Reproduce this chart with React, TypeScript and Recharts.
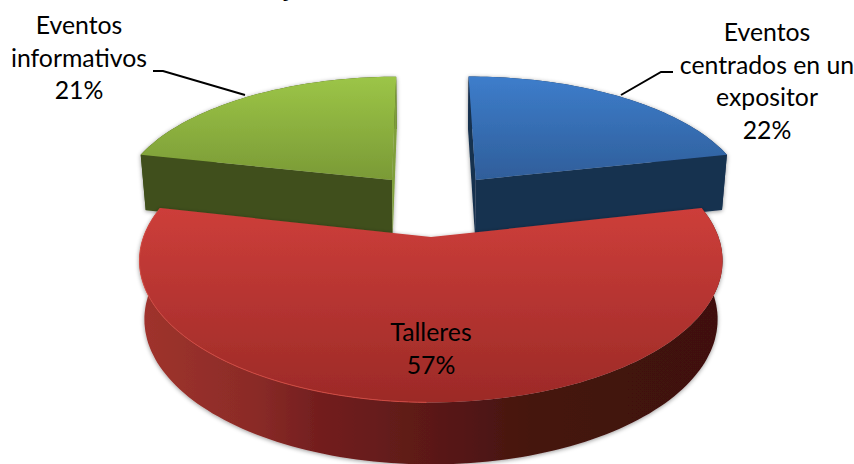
import { PieChart, Pie, Cell } from 'recharts';

const categories = ['Eventos informativos', 'Eventos centrados en un expositor', 'Talleres'];
const percentages = [21.4, 21.6, 57];
const labelLines = [
  ['Eventos', 'informativos'],
  ['Eventos', 'centrados en un', 'expositor'],
  ['Talleres'],
];
const labelPercents = ['21%', '22%', '57%'];
const topColors = [
  ['#9cc547', '#7a9a36'],
  ['#3d7dcb', '#2f5e9a'],
  ['#cd3e3a', '#9c2a27'],
];
const wallColors = ['#3f4f1a', '#183150', '#5a1816'];
const endFaceColors = ['#7f9f3a', '#183150', '#5a1816'];

const data = categories.map((name, i) => ({ name, value: percentages[i] }));

const FIRST_ANGLE = 90 + 77.4;
const EXPLODE = 0.25;
const PERSPECTIVE = 0.16;
const SQUASH = 0.46;
const BASE_SHRINK = 0.983;
const SLICE_NUDGE = [0, 0, -3];

// tilted plane, unit circle = outerRadius
const makeProjection = (cx: number, cy: number, r: number) => {
  const top = (u: number, v: number) => {
    const s = 1 / (1 - PERSPECTIVE * v);
    return [cx + r * u * s, cy + r * SQUASH * v * s];
  };
  const base = (u: number, v: number) => {
    const [x, y] = top(u, v);
    return [cx + (x - cx) * BASE_SHRINK, y + 57 + 4 * v];
  };
  return { top, base };
};

const toPath = (pts: number[][]) =>
  'M' + pts.map((p) => `${p[0].toFixed(1)},${p[1].toFixed(1)}`).join('L') + 'Z';

const Slice3D = (props: any) => {
  const { cx, cy, outerRadius, startAngle, endAngle, index } = props;
  const { top, base } = makeProjection(cx + SLICE_NUDGE[index], cy, outerRadius);
  // clockwise from 12 o'clock
  const t0 = 90 - startAngle;
  const t1 = 90 - endAngle;
  const mid = (((t0 + t1) / 2) * Math.PI) / 180;
  const ou = EXPLODE * Math.sin(mid);
  const ov = -EXPLODE * Math.cos(mid);

  const arc: number[][] = [];
  const steps = Math.ceil((t1 - t0) / 1.5);
  for (let i = 0; i <= steps; i++) {
    const a = ((t0 + ((t1 - t0) * i) / steps) * Math.PI) / 180;
    arc.push([ou + Math.sin(a), ov - Math.cos(a)]);
  }
  const topArc = arc.map(([u, v]) => top(u, v));
  const baseArc = arc.map(([u, v]) => base(u, v));
  const apexTop = top(ou, ov);
  const apexBase = base(ou, ov);
  const first = arc[0];
  const last = arc[arc.length - 1];

  const id = `slice-${index}`;
  const isRed = index === 2;
  return (
    <g filter="url(#soft-shadow)">
      <defs>
        <filter id="soft-shadow" x="-5%" y="-5%" width="110%" height="110%">
          <feDropShadow dx="0" dy="1" stdDeviation="2" floodColor="#000" floodOpacity="0.4" />
        </filter>
        <linearGradient id={`${id}-top`} x1="0" y1="0" x2="0" y2="1">
          <stop offset="0" stopColor={topColors[index][0]} />
          <stop offset="1" stopColor={topColors[index][1]} />
        </linearGradient>
        <linearGradient id={`${id}-wall`} x1="0" y1="0" x2="1" y2="0">
          <stop offset="0" stopColor="#a0332d" />
          <stop offset="0.2" stopColor="#8a2b27" />
          <stop offset="0.3" stopColor="#741f1f" />
          <stop offset="0.5" stopColor="#5b1917" />
          <stop offset="0.67" stopColor="#45130f" />
          <stop offset="1" stopColor="#3f110e" />
        </linearGradient>
      </defs>
      <path
        d={toPath([...topArc, ...baseArc.slice().reverse()])}
        fill={isRed ? `url(#${id}-wall)` : wallColors[index]}
      />
      {!isRed && (
        <path d={toPath([apexTop, top(first[0], first[1]), base(first[0], first[1]), apexBase])} fill={wallColors[index]} />
      )}
      {!isRed && (
        <path d={toPath([apexTop, top(last[0], last[1]), base(last[0], last[1]), apexBase])} fill={endFaceColors[index]} />
      )}
      <path d={toPath([apexTop, ...topArc])} fill={`url(#${id}-top)`} />
      {isRed && (
        <polyline
          points={topArc.slice(Math.floor(topArc.length / 2)).map((p) => p.join(',')).join(' ')}
          fill="none"
          stroke="#d04a42"
          strokeWidth={1}
        />
      )}
    </g>
  );
};

// text anchor and leader for each slice, same order as categories
const labelCenters = [
  { x: 79, y: 34 },
  { x: 767, y: 41 },
  { x: 431, y: 341 },
];
const leaders = [
  '245,95 163,71 153,71',
  '621,95 661,72 673,72',
  '',
];

const renderLabel = (props: any) => {
  const { index } = props;
  const pos = labelCenters[index];
  const lines = [...labelLines[index], labelPercents[index]];
  return (
    <g key={`label-${index}`}>
      {leaders[index] && <polyline points={leaders[index]} fill="none" stroke="#000" strokeWidth={2} />}
      <text x={pos.x} y={pos.y} textAnchor="middle" fontFamily="Lato" fontSize={24.8} fill="#000">
        {lines.map((line, i) => (
          <tspan key={i} x={pos.x} y={pos.y + i * 32.6}>
            {line}
          </tspan>
        ))}
      </text>
    </g>
  );
};

export default function App() {
  return (
    <div style={{ position: 'absolute', left: 0, top: 0, width: 854, height: 464, overflow: 'hidden', background: '#fff' }}>
      <PieChart width={854} height={464} margin={{ top: 0, right: 0, bottom: 0, left: 0 }}>
        <Pie
          data={data}
          dataKey="value"
          nameKey="name"
          cx={434}
          cy={204}
          outerRadius={276}
          startAngle={FIRST_ANGLE}
          endAngle={FIRST_ANGLE - 360}
          stroke="none"
          shape={Slice3D}
          label={renderLabel}
          labelLine={false}
          isAnimationActive={false}
        >
          {data.map((d) => (
            <Cell key={d.name} />
          ))}
        </Pie>
        {/* cut-off title descender at the top edge */}
        <text x={290} y={-4} textAnchor="middle" fontFamily="Lato" fontStyle="italic" fontWeight="bold" fontSize={30} fill="#000">
          j
        </text>
      </PieChart>
    </div>
  );
}
